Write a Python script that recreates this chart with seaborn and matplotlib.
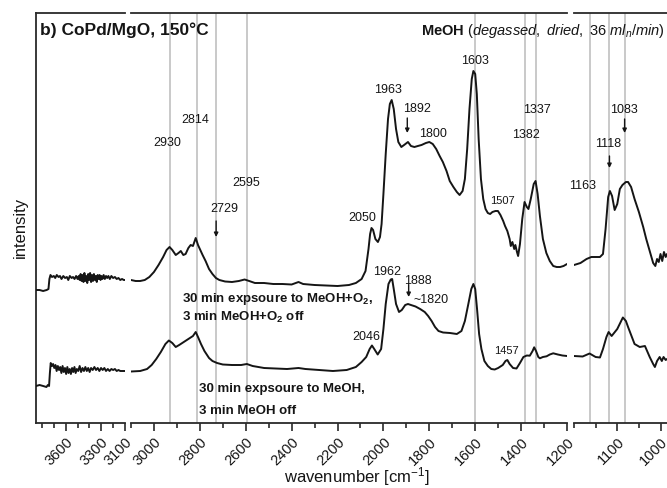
import numpy as np
import pandas as pd
import matplotlib
matplotlib.use("Agg")
import matplotlib.pyplot as plt
import seaborn as sns

# ---------------- spectra (wavenumber in cm-1, intensity in a.u.) ----------------
# MeOH + O2 exposure (upper trace)
up1_wn = [3850, 3820, 3790, 3760, 3745, 3737, 3728, 3715, 3700, 3688, 3675, 3660, 3648, 3635,
          3620, 3605, 3590, 3578, 3565, 3550, 3538, 3525, 3512, 3500, 3490, 3482, 3474, 3466,
          3458, 3450, 3442, 3434, 3426, 3418, 3410, 3402, 3394, 3386, 3378, 3370, 3362, 3354,
          3346, 3338, 3330, 3322, 3314, 3306, 3298, 3290, 3280, 3270, 3260, 3250, 3240, 3228,
          3215, 3200, 3185, 3170, 3155, 3140, 3125, 3110, 3100]
up1_int = [1.33, 1.33, 1.32, 1.33, 1.34, 1.44, 1.48, 1.46, 1.47, 1.45, 1.48, 1.46, 1.47, 1.44,
           1.47, 1.45, 1.46, 1.43, 1.47, 1.45, 1.46, 1.44, 1.47, 1.44, 1.47, 1.43, 1.49, 1.42,
           1.48, 1.41, 1.50, 1.42, 1.47, 1.40, 1.49, 1.43, 1.50, 1.41, 1.48, 1.42, 1.49, 1.43,
           1.47, 1.41, 1.48, 1.44, 1.48, 1.43, 1.47, 1.44, 1.48, 1.44, 1.47, 1.45, 1.47, 1.44,
           1.47, 1.45, 1.46, 1.44, 1.45, 1.43, 1.44, 1.43, 1.43]

up2_wn = [3100, 3080, 3060, 3040, 3020, 3000, 2980, 2960, 2945, 2932, 2920, 2905, 2893, 2883,
          2872, 2862, 2850, 2840, 2830, 2818, 2808, 2798, 2788, 2775, 2760, 2745, 2730, 2715,
          2690, 2660, 2630, 2605, 2585, 2560, 2520, 2480, 2440, 2400, 2370, 2350, 2300, 2250,
          2200, 2150, 2120, 2095, 2078, 2065, 2058, 2052, 2045, 2035, 2024, 2015, 2008, 2000,
          1990, 1980, 1972, 1964, 1955, 1945, 1935, 1922, 1910, 1893, 1880, 1865, 1850, 1834,
          1815, 1800, 1785, 1770, 1755, 1741, 1725, 1711, 1695, 1680, 1668, 1655, 1645, 1635,
          1625, 1615, 1608, 1600, 1593, 1585, 1575, 1565, 1555, 1545, 1535, 1525, 1512, 1501,
          1490, 1478, 1470, 1460, 1450, 1445, 1438, 1430, 1425, 1418, 1413, 1405, 1395, 1385,
          1375, 1368, 1358, 1345, 1337, 1328, 1318, 1305, 1290, 1275, 1260, 1245, 1230, 1215,
          1200]
up2_int = [1.43, 1.42, 1.42, 1.43, 1.46, 1.51, 1.58, 1.66, 1.73, 1.76, 1.73, 1.68, 1.70, 1.72,
           1.68, 1.69, 1.75, 1.78, 1.77, 1.85, 1.78, 1.73, 1.68, 1.62, 1.54, 1.49, 1.45, 1.43,
           1.415, 1.41, 1.42, 1.435, 1.42, 1.40, 1.40, 1.39, 1.39, 1.385, 1.41, 1.39, 1.38, 1.375,
           1.37, 1.38, 1.40, 1.44, 1.52, 1.74, 1.89, 1.95, 1.93, 1.84, 1.81, 1.86, 1.99, 2.29,
           2.69, 3.04, 3.19, 3.23, 3.14, 2.94, 2.81, 2.76, 2.78, 2.81, 2.77, 2.76, 2.77, 2.78,
           2.80, 2.81, 2.79, 2.74, 2.67, 2.61, 2.52, 2.42, 2.36, 2.31, 2.28, 2.32, 2.44, 2.74,
           3.14, 3.44, 3.52, 3.49, 3.29, 2.84, 2.44, 2.24, 2.14, 2.10, 2.09, 2.11, 2.12, 2.12,
           2.08, 2.02, 1.97, 1.92, 1.84, 1.77, 1.81, 1.74, 1.78, 1.71, 1.67, 1.79, 2.04, 2.21,
           2.16, 2.14, 2.24, 2.39, 2.42, 2.29, 2.07, 1.84, 1.70, 1.62, 1.57, 1.56, 1.56, 1.57,
           1.59]

up3_wn = [1200, 1185, 1171, 1160, 1152, 1140, 1133, 1127, 1121, 1117, 1112, 1106, 1100, 1094,
          1088, 1080, 1075, 1068, 1060, 1050, 1040, 1033, 1025, 1017, 1012, 1008, 1004, 1000,
          996, 992, 988, 985]
up3_int = [1.58, 1.60, 1.64, 1.66, 1.66, 1.66, 1.69, 1.94, 2.26, 2.32, 2.27, 2.13, 2.19, 2.34,
           2.38, 2.41, 2.41, 2.36, 2.24, 2.11, 1.96, 1.84, 1.72, 1.60, 1.57, 1.64, 1.61, 1.69,
           1.62, 1.71, 1.66, 1.69]

# MeOH exposure only (lower trace)
lo1_wn = [3850, 3820, 3790, 3762, 3750, 3740, 3733, 3726, 3716, 3706, 3696, 3686, 3676, 3666,
          3656, 3646, 3636, 3626, 3616, 3606, 3596, 3586, 3576, 3566, 3556, 3546, 3536, 3526,
          3516, 3506, 3494, 3482, 3470, 3458, 3446, 3434, 3422, 3410, 3398, 3386, 3372, 3358,
          3344, 3330, 3316, 3302, 3288, 3274, 3260, 3245, 3230, 3215, 3200, 3185, 3170, 3155,
          3140, 3125, 3110, 3100]
lo1_int = [0.37, 0.38, 0.37, 0.36, 0.38, 0.37, 0.50, 0.60, 0.57, 0.59, 0.55, 0.58, 0.52, 0.57,
           0.53, 0.56, 0.50, 0.57, 0.51, 0.55, 0.49, 0.56, 0.50, 0.54, 0.49, 0.55, 0.51, 0.56,
           0.50, 0.54, 0.52, 0.57, 0.51, 0.55, 0.52, 0.56, 0.52, 0.55, 0.51, 0.55, 0.53, 0.56,
           0.53, 0.55, 0.52, 0.55, 0.53, 0.55, 0.52, 0.54, 0.52, 0.54, 0.53, 0.54, 0.52, 0.53,
           0.52, 0.52, 0.52, 0.52]

lo2_wn = [3100, 3060, 3030, 3010, 2990, 2970, 2950, 2935, 2920, 2905, 2890, 2870, 2850, 2830,
          2818, 2808, 2795, 2780, 2760, 2745, 2725, 2700, 2660, 2620, 2595, 2570, 2520, 2470,
          2420, 2370, 2340, 2280, 2220, 2160, 2120, 2095, 2075, 2060, 2050, 2040, 2025, 2010,
          2000, 1990, 1978, 1968, 1962, 1955, 1945, 1932, 1920, 1905, 1893, 1880, 1860, 1840,
          1820, 1805, 1790, 1775, 1760, 1740, 1710, 1680, 1660, 1645, 1630, 1617, 1608, 1600,
          1592, 1583, 1573, 1560, 1545, 1530, 1515, 1500, 1480, 1468, 1460, 1450, 1435, 1420,
          1405, 1390, 1375, 1362, 1350, 1343, 1335, 1325, 1318, 1305, 1289, 1275, 1260, 1240,
          1220, 1200]
lo2_int = [0.515, 0.52, 0.54, 0.58, 0.64, 0.71, 0.79, 0.825, 0.80, 0.76, 0.78, 0.81, 0.84, 0.87,
           0.91, 0.86, 0.79, 0.72, 0.65, 0.62, 0.60, 0.585, 0.58, 0.58, 0.59, 0.57, 0.55, 0.545,
           0.54, 0.55, 0.54, 0.53, 0.52, 0.53, 0.56, 0.61, 0.66, 0.74, 0.775, 0.74, 0.685, 0.74,
           0.94, 1.19, 1.39, 1.435, 1.44, 1.34, 1.19, 1.11, 1.13, 1.18, 1.19, 1.18, 1.165, 1.14,
           1.11, 1.07, 1.02, 0.96, 0.92, 0.905, 0.90, 0.89, 0.92, 1.02, 1.19, 1.34, 1.39, 1.34,
           1.14, 0.89, 0.74, 0.62, 0.57, 0.54, 0.535, 0.55, 0.58, 0.62, 0.63, 0.59, 0.55, 0.545,
           0.60, 0.66, 0.675, 0.673, 0.72, 0.757, 0.72, 0.66, 0.647, 0.66, 0.667, 0.685, 0.697, 0.685,
           0.675, 0.67]

lo3_wn = [1200, 1180, 1164, 1150, 1140, 1133, 1125, 1120, 1113, 1100, 1087, 1080, 1075, 1060,
          1048, 1036, 1025, 1017, 1013, 1008, 1002, 997, 993, 988, 985]
lo3_int = [0.67, 0.665, 0.695, 0.66, 0.655, 0.74, 0.86, 0.91, 0.87, 0.94, 1.055, 1.02, 0.96, 0.79,
           0.76, 0.77, 0.66, 0.59, 0.56, 0.62, 0.66, 0.62, 0.66, 0.63, 0.64]

# reference band positions (gray guide lines)
band_lines = [2930, 2814, 2729, 2595, 1603, 1382, 1337, 1163, 1118, 1083]

# tick layout of the three wavenumber windows
seg_limits = [(3850, 3100), (3100, 1200), (1200, 985)]
seg_major = [[3600, 3300, 3100],
             [3000, 2800, 2600, 2400, 2200, 2000, 1800, 1600, 1400, 1200],
             [1100, 1000]]
seg_minor = [[3800, 3700, 3500, 3400, 3200],
             [3100, 2900, 2700, 2500, 2300, 2100, 1900, 1700, 1500, 1300],
             [1200, 1150, 1050]]

# ---------------- styling ----------------
sns.set_style("ticks")
plt.rcParams["font.family"] = ["Liberation Sans", "DejaVu Sans"]
plt.rcParams["mathtext.fontset"] = "custom"
plt.rcParams["mathtext.rm"] = "Liberation Sans"
plt.rcParams["mathtext.it"] = "Liberation Sans:italic"
plt.rcParams["mathtext.bf"] = "Liberation Sans:bold"

INK = "#151515"
SPINE = "#2a2a2a"
GUIDE = "#c9c9c9"

W, H = 667, 489
fig = plt.figure(figsize=(W / 100, H / 100), dpi=100)


def px_axes(x0, x1, top, bottom):
    return fig.add_axes([x0 / W, 1 - bottom / H, (x1 - x0) / W, (bottom - top) / H])


ax_top, ax_bot = 14, 424
axes = [px_axes(36, 125, ax_top, ax_bot),
        px_axes(131, 567, ax_top, ax_bot),
        px_axes(574, 667, ax_top, ax_bot)]

traces = [
    [(up1_wn, up1_int), (lo1_wn, lo1_int)],
    [(up2_wn, up2_int), (lo2_wn, lo2_int)],
    [(up3_wn, up3_int), (lo3_wn, lo3_int)],
]

for i, ax in enumerate(axes):
    lo, hi = seg_limits[i]
    for wl in band_lines:
        if min(lo, hi) <= wl <= max(lo, hi):
            ax.axvline(wl, color=GUIDE, lw=1.4, zorder=0)
    for wn, inten in traces[i]:
        df = pd.DataFrame({"wavenumber": wn, "intensity": inten})
        sns.lineplot(data=df, x="wavenumber", y="intensity", ax=ax, color=INK,
                     lw=1.4, sort=False, estimator=None, legend=False, zorder=3)
    ax.set_xlim(lo, hi)
    ax.set_ylim(0, 4.10)
    ax.set_yticks([])
    ax.set_xlabel("")
    ax.set_ylabel("")
    ax.set_xticks(seg_major[i])
    ax.set_xticklabels([str(v) for v in seg_major[i]], rotation=45, ha="right",
                       rotation_mode="anchor", fontsize=10.5, color=INK)
    ax.set_xticks(seg_minor[i], minor=True)
    ax.tick_params(axis="x", which="major", length=6, width=1.2, color=SPINE, pad=2)
    ax.tick_params(axis="x", which="minor", length=3.5, width=1.2, color=SPINE)
    for side in ("top", "bottom", "left"):
        ax.spines[side].set_color(SPINE)
        ax.spines[side].set_linewidth(1.3)
    ax.spines["right"].set_visible(False)
    if i > 0:
        ax.spines["left"].set_visible(False)
    ax.patch.set_alpha(0)

ax1, ax2, ax3 = axes

# peak labels
peak_text = dict(ha="center", va="center", fontsize=9, color=INK)
for txt, x, y in [("2930", 2943, 2.81), ("2814", 2821, 3.04), ("2595", 2598, 2.41),
                  ("2729", 2694, 2.15), ("2050", 2091, 2.06), ("1963", 1982, 3.34),
                  ("1892", 1855, 3.15), ("1800", 1786, 2.90), ("1603", 1602, 3.63),
                  ("1337", 1331, 3.14), ("1382", 1379, 2.89),
                  ("1962", 1982, 1.52), ("1888", 1851, 1.43), ("~1820", 1794, 1.24),
                  ("2046", 2074, 0.87)]:
    ax2.text(x, y, txt, **peak_text)
for txt, x, y in [("1507", 1480, 2.23), ("1457", 1462, 0.73)]:
    ax2.text(x, y, txt, ha="center", va="center", fontsize=8, color=INK)
for txt, x, y in [("1163", 1180, 2.38), ("1118", 1120, 2.80), ("1083", 1085, 3.14)]:
    ax3.text(x, y, txt, clip_on=False, **peak_text)

arrow_kw = dict(arrowstyle="-|>", color=INK, lw=1.0, mutation_scale=6,
                shrinkA=0, shrinkB=0)
for ax, x, y0, y1 in [(ax2, 2729, 2.02, 1.86), (ax2, 1896, 3.05, 2.90),
                      (ax2, 1890, 1.385, 1.26), (ax3, 1118, 2.67, 2.55),
                      (ax3, 1083, 3.04, 2.90)]:
    ax.annotate("", xy=(x, y1), xytext=(x, y0), arrowprops=arrow_kw)

# condition labels for both traces
cond_kw = dict(ha="left", va="center", fontsize=9.5, fontweight="bold", color=INK)
ax2.text(2878, 1.25, r"30 min expsoure to MeOH+O$_\mathbf{2}$,", **cond_kw)
ax2.text(2878, 1.07, r"3 min MeOH+O$_\mathbf{2}$ off", **cond_kw)
ax2.text(2803, 0.35, "30 min expsoure to MeOH,", **cond_kw)
ax2.text(2803, 0.13, "3 min MeOH off", **cond_kw)

# panel title, feed description and axis titles
fig.text(40 / W, 1 - 35.5 / H, "b) CoPd/MgO, 150°C", ha="left", va="baseline",
         fontsize=12.5, fontweight="bold", color=INK)
fig.text(665 / W, 1 - 35 / H,
         r"$\mathbf{MeOH}$ ($\mathit{degassed,\ dried,\ 36\ ml_n/min}$)",
         ha="right", va="baseline", fontsize=10.5, color=INK)
fig.text(20 / W, 1 - 227 / H, "intensity", rotation=90, ha="center", va="center",
         fontsize=12, color=INK)
fig.text(357 / W, 1 - 477 / H, r"wavenumber [cm$^{-1}$]", ha="center", va="center",
         fontsize=12, color=INK)

fig.savefig("out.png", dpi=100)
